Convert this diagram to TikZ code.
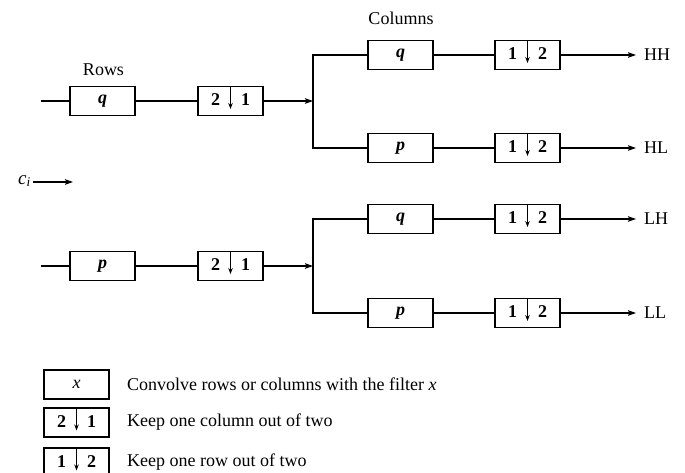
\documentclass[tikz,border=0pt]{standalone}
\usepackage{fontspec}
\setmainfont{Liberation Serif}
\usetikzlibrary{arrows.meta}
\begin{document}
\begin{tikzpicture}[x=1pt,y=-1pt,
  blk/.style={draw,line width=1.3pt,minimum width=65pt,minimum height=29pt,inner sep=0pt,font=\fontsize{18}{21}\selectfont\bfseries\itshape},
  dsbox/.style={draw,line width=1.3pt,minimum width=65pt,minimum height=29pt,inner sep=0pt},
  wire/.style={line width=1.3pt},
  arr/.style={line width=1.3pt,-{Stealth[length=8pt,width=5.5pt,inset=1.5pt]}},
  lbl/.style={font=\fontsize{18}{21}\selectfont,inner sep=0pt},
  dig/.style={font=\fontsize{18}{21}\selectfont\bfseries,inner sep=0pt}]
\useasboundingbox (0,0) rectangle (685,473);
\clip (0,0) rectangle (685,473);
% down-sampler picture
\newcommand{\dsmark}[3]{%
  \node[dig] at ([xshift=-15pt,yshift=1pt]#1.center) {#2};
  \node[dig] at ([xshift=15pt,yshift=1pt]#1.center) {#3};
  \draw[line width=0.8pt,-{Stealth[length=6pt,width=4.5pt]}] (#1.north) -- ([yshift=-8pt]#1.center);}
% ---------- top row ----------
\coordinate (s1) at (41,101);
\node[blk] (q1) at (102.5,101) {q};
\node[dsbox] (d1) at (230.5,101) {};
\dsmark{d1}{2}{1}
\coordinate (b1) at (313,101);
\coordinate (b1t) at (313,55);
\coordinate (b1b) at (313,148);
\node[lbl] (rows) at (103.5,70) {Rows};
\draw[wire] (s1) -- (q1.west) (q1.east) -- (d1.west);
\draw[arr] (d1.east) -- (b1);
\node[blk] (cq1) at (400.5,55) {q};
\node[dsbox] (cd1) at (527.5,55) {};
\dsmark{cd1}{1}{2}
\node[blk] (cp1) at (400.5,148) {p};
\node[dsbox] (cd2) at (527.5,148) {};
\dsmark{cd2}{1}{2}
\node[lbl] (cols) at (401,18) {Columns};
\draw[wire] (cq1.west) -- (b1t) -- (b1b) -- (cp1.west);
\draw[wire] (cq1.east) -- (cd1.west) (cp1.east) -- (cd2.west);
\node[lbl,anchor=west] (hh) at (644,55) {HH};
\node[lbl,anchor=west] (hl) at (644,148) {HL};
\draw[arr] (cd1.east) -- (hh.west -| 636,0) ;
\draw[arr] (cd2.east) -- (hl.west -| 636,0);
% ---------- input ----------
\node[lbl,anchor=east,font=\fontsize{19}{22}\selectfont\itshape] (ci) at (31,181) {c\textsubscript{i}};
\coordinate (cie) at (73,182);
\draw[arr] (33,182) -- (cie);
% ---------- bottom row ----------
\coordinate (s2) at (41,266);
\node[blk] (p2) at (102.5,266) {p};
\node[dsbox] (d2) at (230.5,266) {};
\dsmark{d2}{2}{1}
\coordinate (b2) at (313,266);
\coordinate (b2t) at (313,219);
\coordinate (b2b) at (313,313);
\draw[wire] (s2) -- (p2.west) (p2.east) -- (d2.west);
\draw[arr] (d2.east) -- (b2);
\node[blk] (cq2) at (400.5,219) {q};
\node[dsbox] (cd3) at (527.5,219) {};
\dsmark{cd3}{1}{2}
\node[blk] (cp2) at (400.5,313) {p};
\node[dsbox] (cd4) at (527.5,313) {};
\dsmark{cd4}{1}{2}
\draw[wire] (cq2.west) -- (b2t) -- (b2b) -- (cp2.west);
\draw[wire] (cq2.east) -- (cd3.west) (cp2.east) -- (cd4.west);
\node[lbl,anchor=west] (lh) at (644,219) {LH};
\node[lbl,anchor=west] (ll) at (644,313) {LL};
\draw[arr] (cd3.east) -- (lh.west -| 636,0);
\draw[arr] (cd4.east) -- (ll.west -| 636,0);
% ---------- legend ----------
\node[blk,font=\fontsize{18}{21}\selectfont\itshape] (lx) at (76.5,384.5) {x};
\node[dsbox] (l2) at (76.5,422.5) {};
\dsmark{l2}{2}{1}
\node[dsbox] (l3) at (76.5,462.5) {};
\dsmark{l3}{1}{2}
\node[lbl,anchor=west] (t1) at (127,384.5) {Convolve rows or columns with the filter \textit{x}};
\node[lbl,anchor=west] (t2) at (127,422.5) {Keep one column out of two};
\node[lbl,anchor=west] (t3) at (127,462.5) {Keep one row out of two};
\end{tikzpicture}
\end{document}
